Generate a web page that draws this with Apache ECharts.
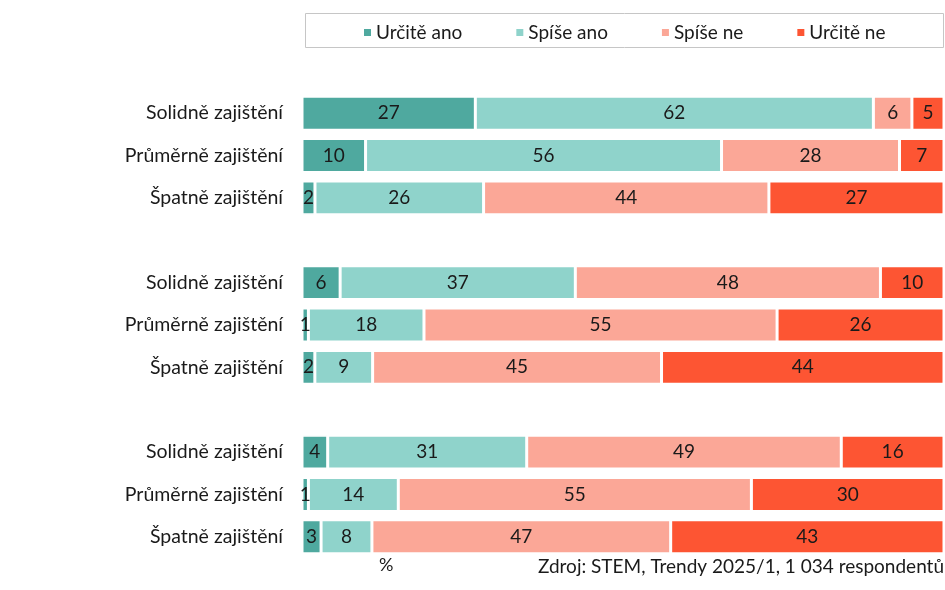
<!DOCTYPE html>
<html>
<head>
<meta charset="UTF-8" />
<title>Zajištění</title>
<style type="text/css">
body,html{margin:0;padding:0;border:0;width:100%;height:100%;overflow:hidden;background:#fff;}
</style>
<script src="https://cdn.jsdelivr.net/npm/echarts@6/dist/echarts.min.js"></script>
</head>
<body>
<div id="chartContainer" style="width:945px;height:590px;"></div>
<script type="text/javascript">
// rows top to bottom, three groups of three
var rowLabels = ['Solidně zajištění', 'Průměrně zajištění', 'Špatně zajištění'];
var seriesNames = ['Určitě ano', 'Spíše ano', 'Spíše ne', 'Určitě ne'];
var urciteAno = [27, 10, 2, 6, 1, 2, 4, 1, 3];
var spiseAno = [62, 56, 26, 37, 18, 9, 31, 14, 8];
var spiseNe = [6, 28, 44, 48, 55, 45, 49, 55, 47];
var urciteNe = [5, 7, 27, 10, 26, 44, 16, 30, 43];
var colors = ['#4fa99f', '#8fd3cb', '#fba797', '#fd5533'];
var sourceText = 'Zdroj: STEM, Trendy 2025/1, 1 034 respondentů';

var FONT = 'Lato';
var raw = [urciteAno, spiseAno, spiseNe, urciteNe];

// category slots with an empty slot between groups
var cats = [], slotRow = [];
for (var g = 0; g < 3; g++) {
    if (g > 0) { cats.push(''); slotRow.push(-1); }
    for (var r = 0; r < 3; r++) { cats.push(rowLabels[r]); slotRow.push(g * 3 + r); }
}

// every bar is drawn as share of its row total so it reaches 100 %
function rowSum(i) { return urciteAno[i] + spiseAno[i] + spiseNe[i] + urciteNe[i]; }

var series = [];
for (var s = 0; s < 4; s++) {
    var d = [];
    for (var k = 0; k < slotRow.length; k++) {
        var i = slotRow[k];
        if (i < 0) { d.push('-'); continue; }
        d.push({ value: raw[s][i] / rowSum(i) * 100, label: { formatter: String(raw[s][i]) } });
    }
    series.push({
        name: seriesNames[s], type: 'bar', stack: 'total',
        barCategoryGap: '20%',
        itemStyle: { color: colors[s], borderColor: '#fff', borderWidth: 1.5 },
        label: { show: true, position: 'inside', color: '#1a1a1a', fontFamily: FONT, fontSize: 19 },
        emphasis: { disabled: true },
        data: d
    });
}

var option = {
    animation: false,
    color: colors,
    legend: {
        data: seriesNames,
        left: 357, top: 18,
        icon: 'rect', itemWidth: 9, itemHeight: 9, itemGap: 52,
        textStyle: { fontFamily: FONT, fontSize: 19, color: '#1a1a1a', padding: [0, 0, 0, -1] }
    },
    grid: { left: 302, right: 1, top: 92, bottom: 32 },
    xAxis: {
        type: 'value', min: 0, max: 100,
        axisLabel: { show: false }, axisLine: { show: false },
        axisTick: { show: false }, splitLine: { show: false }
    },
    yAxis: {
        type: 'category', inverse: true, data: cats,
        axisLine: { show: false }, axisTick: { show: false },
        axisLabel: { margin: 19, color: '#1a1a1a', fontFamily: FONT, fontSize: 19.5 }
    },
    graphic: [
        { type: 'rect', shape: { x: 305.5, y: 13.5, width: 638, height: 34 },
          style: { fill: 'none', stroke: '#c6c6c6', lineWidth: 1 } },
        { type: 'text', x: 379, y: 556, style: { text: '%', fontFamily: FONT, fontSize: 18, fill: '#1a1a1a' } },
        { type: 'text', right: 1, top: 557, style: { text: sourceText, fontFamily: FONT, fontSize: 19, fill: '#1a1a1a' } }
    ],
    series: series
};

var chart = echarts.init(document.getElementById('chartContainer'));
chart.setOption(option);
</script>
</body>
</html>
